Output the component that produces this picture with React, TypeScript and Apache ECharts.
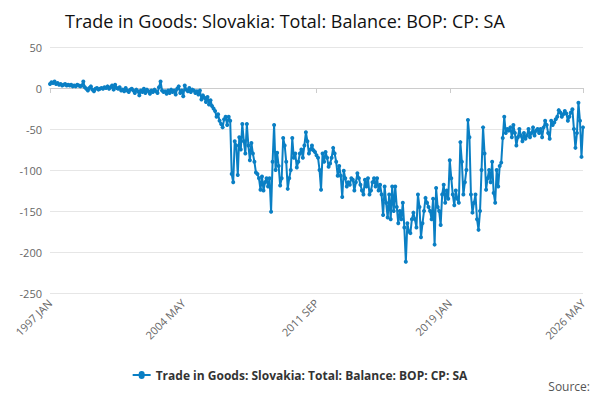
import React, { useEffect, useRef } from "react";
import * as echarts from "echarts";

const MONTHS = ["JAN","FEB","MAR","APR","MAY","JUN","JUL","AUG","SEP","OCT","NOV","DEC"];
const categories: string[] = [];
for (let y = 1997; y <= 2026; y++) for (let m = 0; m < 12; m++) if (!(y === 2026 && m > 4)) categories.push(`${y} ${MONTHS[m]}`);

const v1997_2001 = [
  5,7,6,8,5,6,4,5,3,4,5,3,
  4,3,4,2,3,2,4,3,2,3,8,1,
  -1,-3,0,2,-2,-4,-1,0,-2,-1,0,-1,
  1,0,2,-1,1,3,-2,4,0,-1,1,-3,
  -2,-4,0,-3,-5,-2,-1,-3,-6,-2,-4,-9,
];
const v2002_2006 = [
  -3,-5,-1,-6,-2,-4,-7,-3,-5,-2,-4,-6,
  1,8,-3,-5,-4,-7,-3,-6,-2,-5,-3,-8,
  -1,2,-6,-3,-10,3,-2,-4,0,-5,-2,-3,
  -6,-4,-8,-3,-14,-9,-12,-17,-11,-20,-15,-22,
  -25,-28,-35,-32,-40,-44,-48,-38,-35,-45,-35,-40,
];
const v2007_2011 = [
  -105,-115,-65,-70,-106,-60,-75,-44,-65,-80,-44,-70,
  -88,-67,-80,-90,-103,-105,-110,-124,-108,-125,-115,-110,
  -120,-110,-151,-90,-45,-100,-79,-95,-119,-110,-61,-70,
  -90,-123,-110,-100,-61,-85,-80,-97,-90,-80,-75,-85,
  -70,-54,-65,-80,-75,-70,-76,-78,-82,-85,-100,-124,
];
const v2012_2016 = [
  -80,-90,-78,-85,-96,-92,-85,-73,-80,-90,-107,-95,
  -107,-133,-101,-110,-120,-115,-118,-110,-112,-125,-115,-104,
  -110,-118,-125,-130,-112,-120,-110,-130,-125,-115,-110,-120,
  -110,-125,-118,-130,-155,-120,-140,-158,-130,-160,-120,-150,
  -120,-145,-165,-150,-160,-140,-170,-212,-165,-175,-177,-160,
];
const v2017_2021 = [
  -152,-160,-170,-130,-145,-182,-165,-150,-134,-140,-145,-150,
  -160,-135,-191,-122,-145,-150,-167,-130,-118,-140,-125,-135,
  -88,-110,-130,-143,-125,-135,-140,-66,-90,-130,-115,-100,
  -39,-60,-130,-152,-140,-130,-160,-173,-150,-100,-48,-80,
  -124,-110,-100,-115,-90,-128,-140,-100,-120,-95,-91,-61,
];
const v2022_2026 = [
  -35,-55,-50,-52,-48,-60,-45,-55,-70,-60,-50,-58,
  -65,-55,-62,-58,-50,-60,-55,-48,-58,-52,-50,-55,
  -50,-60,-48,-40,-45,-55,-62,-40,-45,-42,-38,-35,
  -27,-30,-35,-32,-28,-31,-40,-35,-30,-26,-50,-73,
  -55,-18,-40,-84,-48,
];
const values = [...v1997_2001, ...v2002_2006, ...v2007_2011, ...v2012_2016, ...v2017_2021, ...v2022_2026];
const seriesName = "Trade in Goods: Slovakia: Total: Balance: BOP: CP: SA";

export default function App() {
  const ref = useRef<HTMLDivElement>(null);
  useEffect(() => {
    const chart = echarts.init(ref.current!, null, { renderer: "svg" });
    chart.setOption({
      animation: false,
      title: { text: seriesName, left: 60, top: 7, textStyle: { fontSize: 18, fontWeight: "normal", color: "#111", fontFamily: "Open Sans" } },
      grid: { left: 50, right: 17, top: 47, bottom: 107 },
      legend: { top: 364, left: "center", icon: "path://M0,4L6,4A3,3 0 1 1 12,4L18,4L18,6L12,6A3,3 0 1 1 6,6L0,6Z", itemWidth: 18, itemHeight: 8, textStyle: { fontSize: 12, fontWeight: "bold", color: "#333", fontFamily: "Open Sans" } },
      graphic: [{ type: "text", right: 10, top: 380, style: { text: "Source:", fontSize: 12, fill: "#555", fontFamily: "Open Sans" } }],
      xAxis: {
        type: "category", data: categories, boundaryGap: false,
        axisLine: { lineStyle: { color: "#ccc" } },
        axisTick: { show: true, interval: 87, lineStyle: { color: "#ccc" } },
        axisLabel: { interval: 87, rotate: 45, color: "#666", fontSize: 11, fontFamily: "Open Sans", showMaxLabel: true },
      },
      yAxis: {
        type: "value", min: -250, max: 50, interval: 50,
        splitLine: { lineStyle: { color: "#e6e6e6" } },
        axisLabel: { color: "#666", fontSize: 11, fontFamily: "Open Sans" },
      },
      series: [{
        name: seriesName, type: "line", data: values,
        color: "#0a7fc4", symbol: "circle", symbolSize: 4, showAllSymbol: true,
        lineStyle: { width: 2 },
      }],
    });
    return () => chart.dispose();
  }, []);
  return <div ref={ref} style={{ width: 600, height: 400, margin: -8 }} />;
}
